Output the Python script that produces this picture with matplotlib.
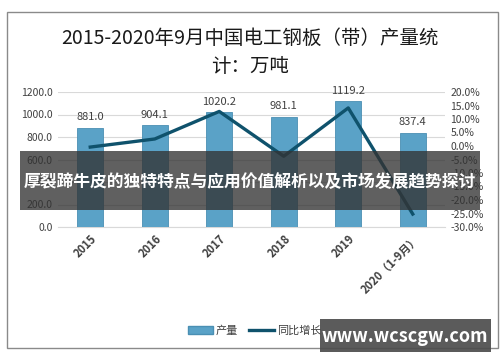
import matplotlib.pyplot as plt
import numpy as np
from matplotlib.patches import Rectangle, Patch
from matplotlib.lines import Line2D

plt.rcParams['font.family'] = ['Noto Sans CJK SC', 'DejaVu Sans']

years = ['2015', '2016', '2017', '2018', '2019', '2020（1-9月）']
output = [881.0, 904.1, 1020.2, 981.1, 1119.2, 837.4]
growth = [-0.4, 2.6, 12.8, -3.8, 14.1, -25.2]
left_ticks = [0, 200, 400, 600, 800, 1000, 1200]
right_ticks = [-30, -25, -20, -15, -10, -5, 0, 5, 10, 15, 20]

bar_color = '#5aa2c7'
line_color = '#0f526c'
text_color = '#404040'

fig = plt.figure(figsize=(5, 3.62), dpi=100)
W, H = 500, 362

# outer frame
fig.patches.append(Rectangle((7 / W, 1 - 348 / H), 491 / W, 336 / H,
                             transform=fig.transFigure, fill=False,
                             edgecolor='#8a8a8a', linewidth=1.0))

fig.text(0.5, 1 - 38 / H, '2015-2020年9月中国电工钢板（带）产量统',
         ha='center', va='center', fontsize=14, color='#1a1a1a')
fig.text(0.5, 1 - 66 / H, '计：万吨',
         ha='center', va='center', fontsize=14, color='#1a1a1a')

ax = fig.add_axes([58 / W, 1 - 227 / H, 387 / W, 135 / H])
x = np.arange(len(years))
bars = ax.bar(x, output, width=0.4, color=bar_color, edgecolor='#4a8fb3',
              linewidth=0.6, zorder=3)
for xi, v in zip(x, output):
    ax.annotate(f'{v:.1f}', (xi, v), xytext=(0, 4), textcoords='offset points',
                ha='center', va='bottom', fontsize=8, color=text_color)

ax.set_xlim(-0.5, len(years) - 0.5)
ax.set_ylim(0, 1200)
ax.set_yticks(left_ticks)
ax.set_yticklabels([f'{t:.1f}' for t in left_ticks], fontsize=7.5, color=text_color)
ax.set_xticks(x)
ax.set_xticklabels(years, rotation=45, ha='right', va='top', rotation_mode='anchor',
                   fontsize=8, fontweight='bold', color=text_color)
ax.tick_params(length=0, pad=4)
ax.grid(axis='y', color='#d9d9d9', linewidth=0.8, zorder=0)
for s in ['top', 'left', 'right']:
    ax.spines[s].set_visible(False)
ax.spines['bottom'].set_color('#d9d9d9')

ax2 = ax.twinx()
ax2.plot(x, growth, color=line_color, linewidth=2.4, zorder=4)
ax2.set_ylim(-30, 20)
ax2.set_yticks(right_ticks)
ax2.set_yticklabels([f'{t:.1f}%' for t in right_ticks], fontsize=7.5, color=text_color)
ax2.tick_params(length=0, pad=4)
for s in ax2.spines.values():
    s.set_visible(False)

handles = [Patch(facecolor=bar_color, edgecolor='#4a8fb3'),
           Line2D([0], [0], color=line_color, linewidth=2.4)]
fig.legend(handles, ['产量', '同比增长'], loc='center', bbox_to_anchor=(0.51, 1 - 331 / H),
           ncol=2, frameon=False, fontsize=8, labelcolor=text_color,
           handlelength=2.2, columnspacing=1.0, handletextpad=0.3)

# overlay banner
fig.patches.append(Rectangle((20 / W, 1 - 210 / H), 460 / W, 59 / H,
                             transform=fig.transFigure, facecolor='#333333',
                             alpha=0.78, edgecolor='none', zorder=10))
fig.text(250 / W, 1 - 182 / H, '厚裂蹄牛皮的独特特点与应用价值解析以及市场发展趋势探讨',
         ha='center', va='center', fontsize=12.1, fontweight='bold', color='white', zorder=11)

# watermark
fig.patches.append(Rectangle((320 / W, 1 - 352 / H), 171 / W, 33 / H,
                             transform=fig.transFigure, facecolor='#4d4d4d',
                             alpha=0.92, edgecolor='none', zorder=10))
fig.text(405 / W, 1 - 336 / H, 'www.wcscgw.com', ha='center', va='center',
         fontsize=13, fontweight='bold', color='white', zorder=11)

fig.savefig('out.png', dpi=100, facecolor='white')
